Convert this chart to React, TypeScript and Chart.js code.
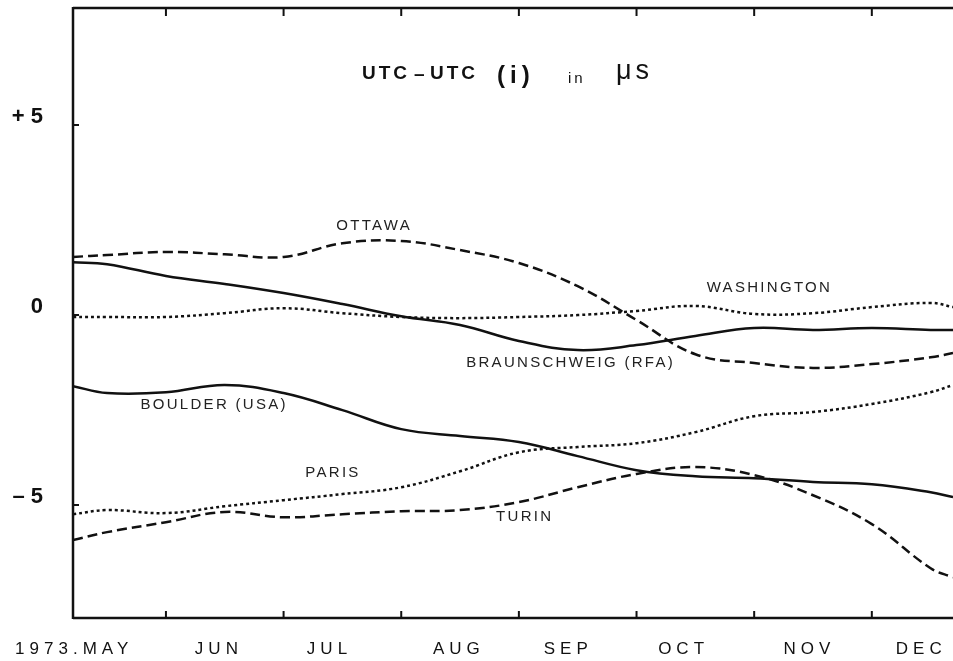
import React, { useEffect, useRef } from "react";
import { Chart, registerables } from "chart.js";

Chart.register(...registerables);

// x in months: 1 = start of June 1973, 2 = start of July, ...
const months = [0.21, 0.5, 1, 1.5, 2, 2.5, 3, 3.5, 4, 4.5, 5, 5.5, 6, 6.5, 7, 7.5, 7.69];

// UTC - UTC(i) in microseconds
const ottawa = [1.53, 1.58, 1.66, 1.6, 1.53, 1.89, 1.95, 1.71, 1.37, 0.76, -0.13, -1.03, -1.26, -1.39, -1.29, -1.11, -1.0];
const braunschweig = [1.39, 1.34, 1.03, 0.82, 0.58, 0.29, -0.03, -0.26, -0.68, -0.92, -0.79, -0.55, -0.34, -0.39, -0.34, -0.39, -0.39];
const washington = [-0.05, -0.05, -0.05, 0.05, 0.18, 0.05, -0.05, -0.08, -0.05, 0.0, 0.11, 0.24, 0.03, 0.05, 0.21, 0.32, 0.21];
const boulder = [-1.87, -2.05, -2.03, -1.84, -2.05, -2.5, -3.0, -3.18, -3.34, -3.71, -4.08, -4.24, -4.29, -4.39, -4.45, -4.66, -4.79];
const paris = [-5.24, -5.13, -5.21, -5.03, -4.87, -4.71, -4.53, -4.11, -3.61, -3.47, -3.37, -3.08, -2.66, -2.55, -2.34, -2.03, -1.84];
const turin = [-5.92, -5.71, -5.45, -5.18, -5.32, -5.24, -5.16, -5.13, -4.92, -4.53, -4.18, -4.0, -4.21, -4.74, -5.5, -6.66, -6.9];

// axis texts
const monthNames = ["1973.MAY", "JUN", "JUL", "AUG", "SEP", "OCT", "NOV", "DEC"];
const monthLabelPos = [0.22, 1.45, 2.39, 3.49, 4.42, 5.4, 6.47, 7.42];
const monthTicks = [1, 2, 3, 4, 5, 6, 7];
const yTicks = [-5, 0, 5];
const yTickLabels = ["– 5", "0", "+ 5"];

// line annotations (data coordinates)
const seriesNames = ["OTTAWA", "WASHINGTON", "BRAUNSCHWEIG (RFA)", "BOULDER (USA)", "PARIS", "TURIN"];
const nameX = [2.76, 6.12, 4.43, 1.4, 2.41, 4.04];
const nameY = [2.34, 0.71, -1.26, -2.37, -4.16, -5.32];

const FONT = '"Liberation Sans", Arial, sans-serif';
const INK = "#111";

function pts(values: number[]) {
  return months.map((m, i) => ({ x: m, y: values[i] }));
}

const framePlugin = {
  id: "frame",
  afterDatasetsDraw(chart: any) {
    // x tick labels are drawn after the datasets (ticks.z = 1): give them letter spacing
    chart.ctx.letterSpacing = "5px";
  },
  afterDraw(chart: any) {
    const ctx = chart.ctx as CanvasRenderingContext2D;
    ctx.letterSpacing = "0px";
    const { left, top, bottom } = chart.chartArea;
    const xs = chart.scales.x;
    const ys = chart.scales.y;
    ctx.save();
    ctx.strokeStyle = INK;
    ctx.lineWidth = 2.5;
    ctx.beginPath();
    ctx.moveTo(left, top);
    ctx.lineTo(chart.width, top);
    ctx.moveTo(left, top - 1);
    ctx.lineTo(left, bottom + 1);
    ctx.moveTo(left, bottom);
    ctx.lineTo(chart.width, bottom);
    ctx.stroke();

    ctx.lineWidth = 2;
    ctx.beginPath();
    for (const m of monthTicks) {
      const px = xs.getPixelForValue(m);
      ctx.moveTo(px, bottom);
      ctx.lineTo(px, bottom - 7);
      ctx.moveTo(px, top);
      ctx.lineTo(px, top + 8);
    }
    for (const v of yTicks) {
      const py = ys.getPixelForValue(v);
      ctx.moveTo(left, py);
      ctx.lineTo(left + 6, py);
    }
    ctx.stroke();

    // series names
    ctx.fillStyle = "#222";
    ctx.textBaseline = "middle";
    ctx.textAlign = "left";
    ctx.font = `15px ${FONT}`;
    const sp = 2.3;
    ctx.letterSpacing = sp + "px";
    seriesNames.forEach((t, i) => {
      const w = ctx.measureText(t).width - sp;
      ctx.fillText(t, xs.getPixelForValue(nameX[i]) - w / 2, ys.getPixelForValue(nameY[i]));
    });

    // title
    ctx.fillStyle = INK;
    ctx.textBaseline = "alphabetic";
    const piece = (t: string, x: number, y: number, font: string, spacing: number) => {
      ctx.font = font;
      ctx.letterSpacing = spacing + "px";
      ctx.fillText(t, x, y);
    };
    piece("UTC", 362, 79, `bold 19px ${FONT}`, 3);
    piece("–", 414, 80, `bold 19px ${FONT}`, 0);
    piece("UTC", 430, 79, `bold 19px ${FONT}`, 3);
    piece("(i)", 497, 83, `bold 24px ${FONT}`, 5);
    piece("in", 568, 83, `15px ${FONT}`, 3);
    piece("μs", 616, 79, `27px ${FONT}`, 4);
    ctx.letterSpacing = "0px";
    ctx.restore();
  },
};

export default function App() {
  const ref = useRef<HTMLCanvasElement>(null);

  useEffect(() => {
    if (!ref.current) return;
    const base = { borderColor: INK, borderWidth: 2.5, pointRadius: 0, tension: 0.4, fill: false };
    const chart = new Chart(ref.current, {
      type: "line",
      data: {
        datasets: [
          { ...base, label: "OTTAWA", data: pts(ottawa), borderDash: [10, 5] },
          { ...base, label: "BRAUNSCHWEIG (RFA)", data: pts(braunschweig) },
          { ...base, label: "WASHINGTON", data: pts(washington), borderDash: [3, 3] },
          { ...base, label: "BOULDER (USA)", data: pts(boulder) },
          { ...base, label: "PARIS", data: pts(paris), borderDash: [3, 3] },
          { ...base, label: "TURIN", data: pts(turin), borderDash: [10, 5] },
        ] as any,
      },
      options: {
        animation: false,
        responsive: false,
        devicePixelRatio: 1,
        layout: { padding: { top: 8, right: 0, left: 0, bottom: 0 } },
        plugins: { legend: { display: false }, tooltip: { enabled: false }, title: { display: false } },
        scales: {
          x: {
            type: "linear",
            min: 0.21,
            max: 7.69,
            grid: { display: false },
            border: { display: false },
            afterBuildTicks: (s: any) => {
              s.ticks = monthLabelPos.map((v) => ({ value: v }));
            },
            afterFit: (s: any) => {
              s.height = 43;
              s.paddingLeft = 0;
              s.paddingRight = 0;
            },
            ticks: {
              z: 1,
              autoSkip: false,
              maxRotation: 0,
              padding: 13,
              color: INK,
              font: { family: FONT, size: 17 },
              callback: (_v: any, i: number) => monthNames[i],
            },
          },
          y: {
            type: "linear",
            min: -7.97,
            max: 8.08,
            grid: { display: false },
            border: { display: false },
            afterBuildTicks: (s: any) => {
              s.ticks = yTicks.map((v) => ({ value: v }));
            },
            afterFit: (s: any) => {
              s.width = 73;
              s.paddingTop = 0;
              s.paddingBottom = 0;
            },
            ticks: {
              padding: 22,
              labelOffset: -8,
              color: INK,
              font: { family: FONT, size: 22, weight: "bold" },
              callback: (_v: any, i: number) => yTickLabels[i],
            },
          },
        },
      } as any,
      plugins: [framePlugin],
    });
    return () => chart.destroy();
  }, []);

  return (
    <div style={{ position: "absolute", left: 0, top: 0, width: 953, height: 661, background: "#fff" }}>
      <canvas ref={ref} width={953} height={661} style={{ width: 953, height: 661 }} />
    </div>
  );
}
